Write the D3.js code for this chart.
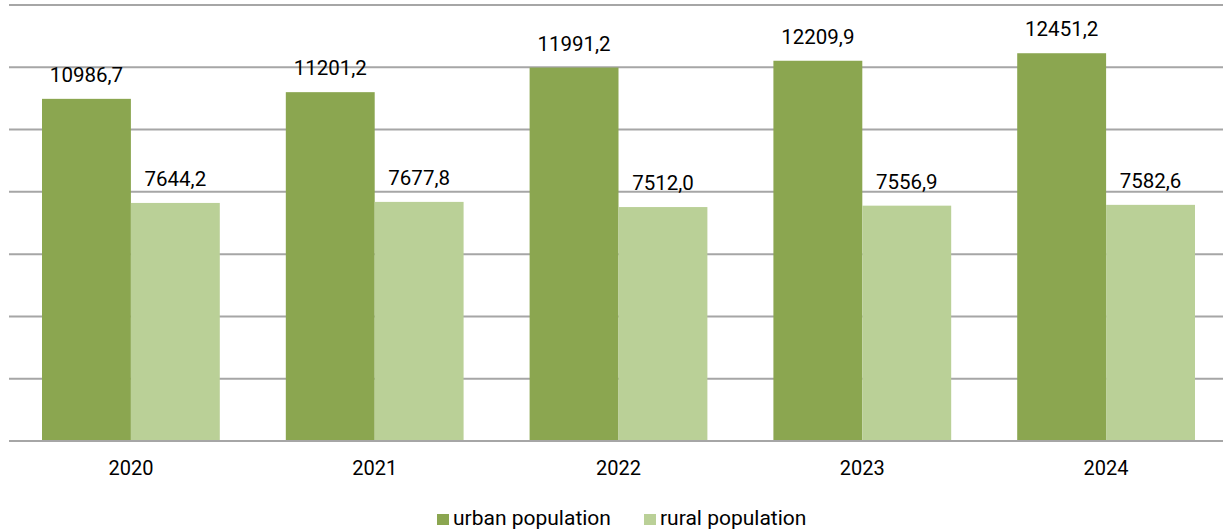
<!DOCTYPE html>
<html><head><meta charset="utf-8">
<script src="https://cdn.jsdelivr.net/npm/d3@7"></script>
<style>body{margin:0;background:#fff}svg{display:block;font-family:Roboto,sans-serif}</style>
</head><body><svg id="c" width="1223" height="532"></svg>
<script>
const years = ["2020","2021","2022","2023","2024"];
const urban = [10986.7, 11201.2, 11991.2, 12209.9, 12451.2];
const rural = [7644.2, 7677.8, 7512.0, 7556.9, 7582.6];
const seriesNames = ["urban population","rural population"];
const colors = ["#8ba650","#bad097"];
const yTicks = [0,2000,4000,6000,8000,10000,12000,14000];

const svg = d3.select("#c");
const x0 = d3.scaleBand().domain(years).range([9,1228]).paddingInner(66/243.75).paddingOuter(33/243.75);
const x1 = d3.scaleBand().domain(seriesNames).range([0,x0.bandwidth()]);
const y = d3.scaleLinear().domain([0,14000]).range([441,5]);

svg.append("g").selectAll("line").data(yTicks).join("line")
  .attr("x1",9).attr("x2",1223).attr("y1",d=>y(d)).attr("y2",d=>y(d))
  .attr("stroke","#a6a6a6").attr("stroke-width",2);

const series = [urban, rural];
series.forEach((vals,si)=>{
  const g = svg.append("g");
  g.selectAll("rect").data(vals).join("rect")
    .attr("x",(d,i)=>x0(years[i])+x1(seriesNames[si]))
    .attr("width",x1.bandwidth())
    .attr("y",d=>y(d)).attr("height",d=>y(0)-y(d))
    .attr("fill",colors[si]);
  g.selectAll("text").data(vals).join("text")
    .attr("x",(d,i)=>x0(years[i])+x1(seriesNames[si])+x1.bandwidth()/2)
    .attr("y",d=>y(d)-17)
    .attr("text-anchor","middle").attr("font-size",20.5).attr("fill","#000")
    .text(d=>d.toFixed(1).replace(".",","));
});

svg.append("line").attr("x1",9).attr("x2",1223).attr("y1",y(0)).attr("y2",y(0))
  .attr("stroke","#a6a6a6").attr("stroke-width",2);

const xAxis = d3.axisBottom(x0).tickSize(0).tickPadding(0);
const ax = svg.append("g").attr("transform",`translate(0,${y(0)})`).call(xAxis);
ax.select(".domain").remove();
ax.selectAll("text").attr("font-size",20).attr("font-family","Roboto,sans-serif").attr("fill","#000")
  .attr("dy",null).attr("y",34);

const legX = [437,644];
const lg = svg.append("g");
seriesNames.forEach((n,i)=>{
  lg.append("rect").attr("x",legX[i]).attr("y",514).attr("width",12).attr("height",11).attr("fill",colors[i]);
  lg.append("text").attr("x",legX[i]+16).attr("y",525).attr("font-size",21).attr("fill","#000").text(n);
});
</script></body></html>
